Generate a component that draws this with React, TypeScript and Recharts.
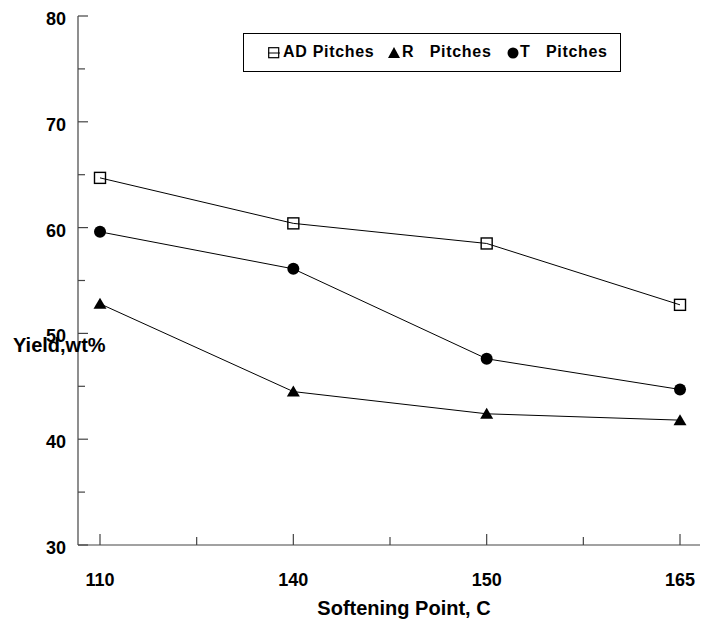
import {
  LineChart,
  Line,
  XAxis,
  YAxis,
  Legend,
} from "recharts";

const categories = ["110", "140", "150", "165"];
const adPitches = [64.7, 60.4, 58.5, 52.7];
const rPitches = [52.8, 44.5, 42.4, 41.8];
const tPitches = [59.6, 56.1, 47.6, 44.7];
const yTicks = [30, 35, 40, 45, 50, 55, 60, 65, 70, 75, 80];
const xTicks = [0, 0.5, 1, 1.5, 2, 2.5, 3];

const data = categories.map((c, i) => ({
  idx: i,
  label: c,
  ad: adPitches[i],
  r: rPitches[i],
  t: tPitches[i],
}));

const FONT = "'Liberation Sans', Arial, sans-serif";
const AXIS = "#444";

function XTick({ x, y, payload }: any) {
  const v = payload.value as number;
  const major = Number.isInteger(v);
  return (
    <g>
      <line x1={x} x2={x} y1={y} y2={y - (major ? 11 : 8)} stroke={AXIS} strokeWidth={1.2} />
      {major && (
        <text x={x} y={y + 41} textAnchor="middle" fontFamily={FONT} fontWeight="bold" fontSize={18} fill="#000">
          {categories[v]}
        </text>
      )}
    </g>
  );
}

function YTick({ x, y, payload }: any) {
  const v = payload.value as number;
  const major = v % 10 === 0;
  return (
    <g>
      <line x1={x} x2={x + (major ? 10 : 7)} y1={y} y2={y} stroke={AXIS} strokeWidth={1.2} />
      {major && (
        <text x={x - 12} y={y + 9} textAnchor="end" fontFamily={FONT} fontWeight="bold" fontSize={18} fill="#000">
          {v}
        </text>
      )}
    </g>
  );
}

function SquareDot({ cx, cy }: any) {
  return <rect x={cx - 5.5} y={cy - 5.5} width={11} height={11} fill="none" stroke="#000" strokeWidth={1.4} />;
}

function CircleDot({ cx, cy }: any) {
  return <circle cx={cx} cy={cy} r={6} fill="#000" />;
}

function TriangleDot({ cx, cy }: any) {
  return <polygon points={`${cx},${cy - 6} ${cx + 6.5},${cy + 5} ${cx - 6.5},${cy + 5}`} fill="#000" />;
}

function LegendBox() {
  const text = {
    position: "absolute" as const,
    top: 9,
    fontFamily: FONT,
    fontWeight: "bold" as const,
    fontSize: 16,
    letterSpacing: 0.7,
    whiteSpace: "pre" as const,
    lineHeight: "18px",
    color: "#000",
  };
  return (
    <div
      style={{
        position: "relative",
        width: 378,
        height: 39,
        boxSizing: "border-box",
        border: "1px solid #000",
        background: "#fff",
      }}>
      <svg width={12} height={12} style={{ position: "absolute", left: 24, top: 13 }}>
        <rect x={0.7} y={0.7} width={10} height={10} fill="none" stroke="#000" strokeWidth={1.2} />
        <line x1={0} x2={12} y1={6} y2={6} stroke="#000" strokeWidth={1} />
      </svg>
      <span style={{ ...text, left: 39 }}>AD Pitches</span>
      <svg width={12} height={12} style={{ position: "absolute", left: 144, top: 13 }}>
        <polygon points="6,0 12,11 0,11" fill="#000" />
      </svg>
      <span style={{ ...text, left: 158 }}>R   Pitches</span>
      <svg width={12} height={12} style={{ position: "absolute", left: 263, top: 13 }}>
        <circle cx={6} cy={6} r={5.5} fill="#000" />
      </svg>
      <span style={{ ...text, left: 276 }}>T   Pitches</span>
    </div>
  );
}

export default function App() {
  return (
    <div style={{ position: "absolute", left: 0, top: 0, background: "#fff" }}>
      <LineChart
        width={712}
        height={622}
        data={data}
        margin={{ top: 16, right: 12, bottom: 0, left: 0 }}>
        <XAxis
          dataKey="idx"
          type="number"
          domain={[-0.1138, 3.1034]}
          ticks={xTicks}
          interval={0}
          height={77}
          tickSize={0}
          tickMargin={0}
          tickLine={false}
          tick={<XTick />}
          axisLine={{ stroke: AXIS, strokeWidth: 1.2 }}
          allowDataOverflow
          label={{
            content: ({ viewBox }: any) => (
              <text
                x={viewBox.x + viewBox.width / 2 + 15}
                y={615}
                textAnchor="middle"
                fontFamily={FONT}
                fontWeight="bold"
                fontSize={20}
                fill="#000">
                Softening Point, C
              </text>
            ),
          }}
        />
        <XAxis
          xAxisId="top"
          dataKey="idx"
          type="number"
          orientation="top"
          domain={[-0.1138, 3.1034]}
          height={0}
          tick={false}
          tickLine={false}
          axisLine={{ stroke: AXIS, strokeWidth: 1.2 }}
        />
        <YAxis
          type="number"
          domain={[30, 80]}
          ticks={yTicks}
          interval={0}
          width={78}
          tickSize={0}
          tickMargin={0}
          tickLine={false}
          tick={<YTick />}
          axisLine={{ stroke: AXIS, strokeWidth: 1.2 }}
          label={{
            content: () => (
              <text x={13} y={352} fontFamily={FONT} fontWeight="bold" fontSize={20} fill="#000">
                Yield,wt%
              </text>
            ),
          }}
        />
        <YAxis
          yAxisId="right"
          orientation="right"
          domain={[30, 80]}
          width={0}
          tick={false}
          tickLine={false}
          axisLine={{ stroke: AXIS, strokeWidth: 1.2 }}
        />
        <Legend
          verticalAlign="middle"
          align="center"
          layout="horizontal"
          wrapperStyle={{ left: 243, top: 33, width: 378, height: 39 }}
          content={() => <LegendBox />}
        />
        <Line
          dataKey="ad"
          stroke="#000"
          strokeWidth={1}
          dot={<SquareDot />}
          activeDot={false}
          isAnimationActive={false}
        />
        <Line
          dataKey="r"
          stroke="#000"
          strokeWidth={1}
          dot={<TriangleDot />}
          activeDot={false}
          isAnimationActive={false}
        />
        <Line
          dataKey="t"
          stroke="#000"
          strokeWidth={1}
          dot={<CircleDot />}
          activeDot={false}
          isAnimationActive={false}
        />
      </LineChart>
    </div>
  );
}
